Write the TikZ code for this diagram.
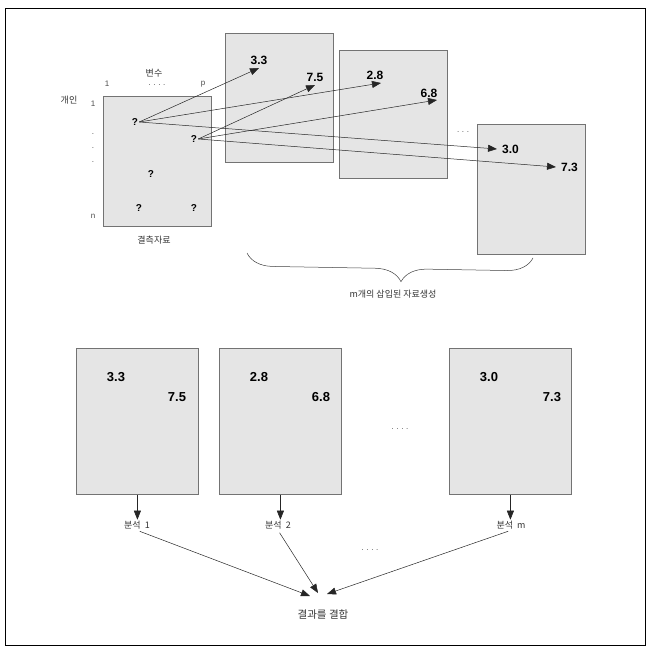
\documentclass[tikz,border=0pt]{standalone}
\usepackage{fontspec}
\setmainfont{Liberation Sans}
\newfontfamily\kr{Noto Sans CJK KR}
\usetikzlibrary{positioning,arrows.meta,decorations.pathreplacing}

\begin{document}
\begin{tikzpicture}[x=1pt, y=-1pt,
    arrowstyle/.style={draw=black!85, line width=0.5pt, -{Triangle[length=9pt,width=7pt]}},
    databox/.style={rectangle, draw=black!55, fill=gray!20, line width=0.8pt,
        anchor=north west, minimum width=108pt, minimum height=130pt, inner sep=0pt},
    bigbox/.style={databox, minimum width=122pt, minimum height=146pt},
    value/.style={font=\bfseries\fontsize{12}{14}\selectfont, inner sep=1pt},
    bigvalue/.style={font=\bfseries\fontsize{13}{15}\selectfont, inner sep=1pt},
    qmark/.style={font=\bfseries\fontsize{10}{12}\selectfont, inner sep=1pt},
    caption/.style={font=\kr\fontsize{9}{11}\selectfont, text=black!80, inner sep=1pt},
    idxtext/.style={font=\fontsize{8}{10}\selectfont, text=black!70, inner sep=1pt}
]
\useasboundingbox (0,0) rectangle (655,655);
\draw[line width=0.8pt] (5,8) rectangle (645,645);

% missing data
\node (Missing) [databox] at (103,96) {};
\node (Var) [caption] at (154,73) {변수};
\node (Person) [caption] at (69,100) {개인};
\node (Col01) [idxtext] at (107,84) {1};
\node (ColDots) [idxtext] at (157,85) {.\,\,.\,\,.\,\,.};
\node (ColP) [idxtext] at (203,84) {p};
\node (Row01) [idxtext] at (93,104) {1};
\node (RowDot01) [idxtext] at (93,134) {.};
\node (RowDot02) [idxtext] at (93,148) {.};
\node (RowDot03) [idxtext] at (93,162) {.};
\node (RowN) [idxtext] at (93,216) {n};
\node (Q01) [qmark] at (135,122) {?};
\node (Q02) [qmark] at (194,139) {?};
\node (Q03) [qmark] at (151,174) {?};
\node (Q04) [qmark] at (139,208) {?};
\node (Q05) [qmark] at (194,208) {?};
\node (MissCap) [caption] at (154,240) {결측자료};

% imputed sets
\node (Imputed01) [databox, minimum height=129pt] at (225,33) {};
\node (Imputed02) [databox, minimum height=128pt] at (339,50) {};
\node (Imputed03) [databox] at (477,124) {};
\node (TopDots) [idxtext] at (463,132) {.\,\,.\,\,.};

\coordinate (Tip01) at (259,68);
\coordinate (Tip02) at (315,85);
\coordinate (Tip03) at (381,83);
\coordinate (Tip04) at (437,100);
\coordinate (Tip05) at (497,149);
\coordinate (Tip06) at (556,167);
\node (Val01) [value, above=2pt of Tip01] {3.3};
\node (Val02) [value, above=2pt of Tip02] {7.5};
\node (Val03) [value, above=2pt of Tip03, xshift=-6pt] {2.8};
\node (Val04) [value, above=1pt of Tip04, xshift=-8pt] {6.8};
\node (Val05) [value, right=4pt of Tip05] {3.0};
\node (Val06) [value, right=4pt of Tip06] {7.3};

\draw[arrowstyle] (Q01.east) -- (Tip01);
\draw[arrowstyle] (Q01.east) -- (Tip03);
\draw[arrowstyle] (Q01.east) -- (Tip05);
\draw[arrowstyle] (Q02.east) -- (Tip02);
\draw[arrowstyle] (Q02.east) -- (Tip04);
\draw[arrowstyle] (Q02.east) -- (Tip06);

\draw[black!75, line width=0.5pt, decorate,
    decoration={brace, mirror, amplitude=26pt, aspect=0.54}] (247,253) -- (533,258);
\node (Gen) [caption] at (393,294) {m개의 삽입된 자료생성};

% analysis
\node (Set01) [bigbox] at (76,348) {};
\node (Set02) [bigbox] at (219,348) {};
\node (Set03) [bigbox] at (449,348) {};
\node [bigvalue] at ([shift={(40,29)}]Set01.north west) {3.3};
\node [bigvalue] at ([shift={(101,49)}]Set01.north west) {7.5};
\node [bigvalue] at ([shift={(40,29)}]Set02.north west) {2.8};
\node [bigvalue] at ([shift={(102,49)}]Set02.north west) {6.8};
\node [bigvalue] at ([shift={(40,29)}]Set03.north west) {3.0};
\node [bigvalue] at ([shift={(103,49)}]Set03.north west) {7.3};
\node (MidDots) [idxtext] at (400,429) {.\,\,.\,\,.\,\,.};

\node (Anal01) [caption] at (137,525) {분석~~1};
\node (Anal02) [caption] at (278,525) {분석~~2};
\node (Anal03) [caption] at (511,525) {분석~~m};
\draw[arrowstyle] (Set01.south) -- (Set01.south |- Anal01.north);
\draw[arrowstyle] (Set02.south) -- (Set02.south |- Anal02.north);
\draw[arrowstyle] (Set03.south) -- (Set03.south |- Anal03.north);
\node (LowDots) [idxtext] at (370,550) {.\,\,.\,\,.\,\,.};

\node (Combine) [caption, font=\kr\fontsize{10.5}{12}\selectfont] at (323,615) {결과를~결합};
\coordinate [above left=13pt and 13pt of Combine.north] (Join01);
\coordinate [above left=16pt and 5pt of Combine.north] (Join02);
\coordinate [above right=15pt and 4pt of Combine.north] (Join03);
\draw[arrowstyle, shorten <=3pt] (Anal01.south) -- (Join01);
\draw[arrowstyle, shorten <=3pt] (Anal02.south) -- (Join02);
\draw[arrowstyle, shorten <=3pt] (Anal03.south) -- (Join03);
\end{tikzpicture}
\end{document}
